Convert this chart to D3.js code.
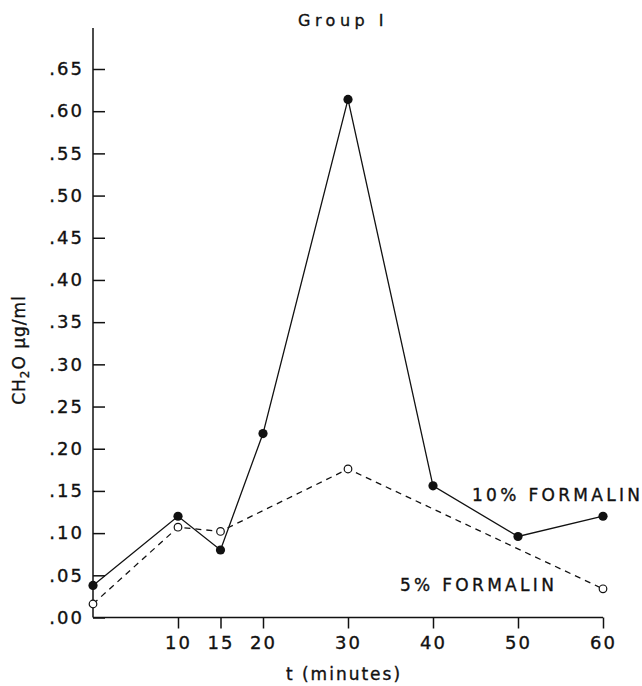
<!DOCTYPE html>
<html>
<head>
  <meta charset="utf-8">
  <style>
    body { margin: 0; background: #fff; }
    text { font-family: "DejaVu Sans", Verdana, sans-serif; fill: #111; stroke: #111; stroke-width: 0.35px; }
    .axis path, .axis line { stroke: #111; stroke-width: 1.5px; }
    .axis text { font-size: 18px; letter-spacing: 2px; }
    .line { fill: none; stroke: #111; stroke-width: 1.3px; }
  </style>
</head>
<body>
  <svg width="642" height="686"></svg>
  <script src="https://cdn.jsdelivr.net/npm/d3@7"></script>
  <script>

  // minutes and CH2O concentration (ug/ml)
  var minutes10 = [0, 10, 15, 20, 30, 40, 50, 60];
  var formalin10 = [0.038, 0.120, 0.080, 0.218, 0.614, 0.156, 0.096, 0.120];
  var minutes5 = [0, 10, 15, 30, 60];
  var formalin5 = [0.016, 0.107, 0.102, 0.176, 0.034];
  var xTicks = [10, 15, 20, 30, 40, 50, 60];
  var yTicks = [0, 0.05, 0.10, 0.15, 0.20, 0.25, 0.30, 0.35, 0.40, 0.45, 0.50, 0.55, 0.60, 0.65];

  var svg = d3.select("svg"),
      margin = {top: 28, left: 93},
      g = svg.append("g").attr("transform", "translate(" + margin.left + "," + margin.top + ")");

  var x = d3.scaleLinear().domain([0, 60]).range([0, 510]),
      y = d3.scaleLinear().domain([0, 0.65]).range([589.5, 41]);

  var fmt = function(d) { return d3.format(".2f")(d).replace(/^0/, ""); };

  // x axis, ticks pointing down
  var xAxis = g.append("g")
    .attr("class", "axis")
    .attr("transform", "translate(0," + y(0) + ")")
    .call(d3.axisBottom(x).tickValues(xTicks).tickSize(11).tickSizeOuter(0).tickPadding(8));
  xAxis.select(".domain").attr("d", "M0,0H" + x(60));

  // y axis, ticks pointing inward, labels on the left
  var yAxis = g.append("g")
    .attr("class", "axis")
    .call(d3.axisRight(y).tickValues(yTicks).tickSize(12).tickSizeOuter(0).tickFormat(fmt));
  yAxis.select(".domain").attr("d", "M0,0V" + y(0));
  yAxis.selectAll(".tick text")
    .attr("x", -9)
    .attr("text-anchor", "end");

  var line = d3.line()
    .x(function(d) { return x(d[0]); })
    .y(function(d) { return y(d[1]); });

  var s10 = d3.zip(minutes10, formalin10),
      s5 = d3.zip(minutes5, formalin5);

  g.append("path")
    .attr("class", "line")
    .attr("d", line(s5))
    .style("stroke-dasharray", "6,5");

  g.append("path")
    .attr("class", "line")
    .attr("d", line(s10));

  g.selectAll(".open")
    .data(s5)
    .enter().append("circle")
    .attr("cx", function(d) { return x(d[0]); })
    .attr("cy", function(d) { return y(d[1]); })
    .attr("r", 3.8)
    .attr("fill", "#fff")
    .attr("stroke", "#111")
    .attr("stroke-width", 1.2);

  g.selectAll(".filled")
    .data(s10)
    .enter().append("circle")
    .attr("cx", function(d) { return x(d[0]); })
    .attr("cy", function(d) { return y(d[1]); })
    .attr("r", 4.6)
    .attr("fill", "#111");

  // series labels
  g.append("text")
    .attr("x", 379).attr("y", 473)
    .style("font-size", "17px").style("letter-spacing", "3.3px")
    .text("10% FORMALIN");

  g.append("text")
    .attr("x", 307).attr("y", 563)
    .style("font-size", "17px").style("letter-spacing", "3.3px")
    .text("5% FORMALIN");

  // title
  svg.append("text")
    .attr("x", 343).attr("y", 26)
    .attr("text-anchor", "middle")
    .style("font-size", "16px").style("letter-spacing", "4.5px")
    .text("Group I");

  // axis titles
  svg.append("text")
    .attr("x", 344).attr("y", 680)
    .attr("text-anchor", "middle")
    .style("font-size", "17px").style("letter-spacing", "2px")
    .text("t (minutes)");

  var yl = svg.append("text")
    .attr("transform", "translate(25,350) rotate(-90)")
    .attr("text-anchor", "middle")
    .style("font-size", "17px").style("letter-spacing", "1px");
  yl.append("tspan").text("CH");
  yl.append("tspan").attr("dy", 4).style("font-size", "12px").text("2");
  yl.append("tspan").attr("dy", -4).text("O  \u03bcg/ml");

  </script>
</body>
</html>
